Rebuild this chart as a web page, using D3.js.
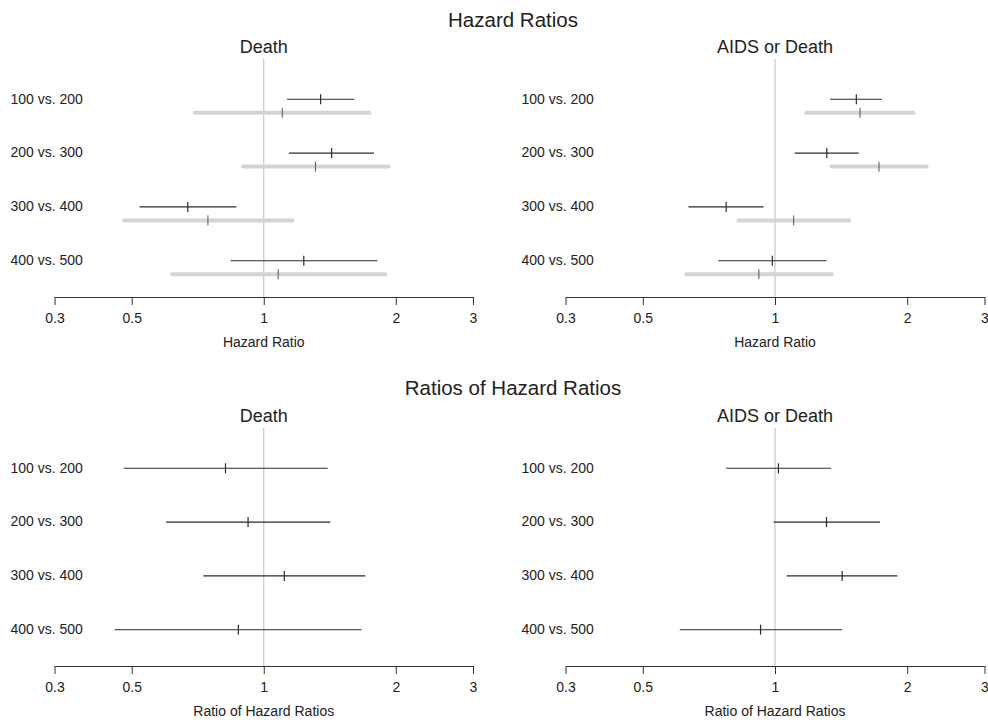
<!DOCTYPE html>
<html><head><meta charset="utf-8">
<script src="https://cdn.jsdelivr.net/npm/d3@7"></script>
<style>
body{margin:0;background:#fff;}
text{font-family:"Liberation Sans",Arial,Helvetica,sans-serif;fill:#222;}
</style></head>
<body>
<svg id="chart" width="988" height="720"></svg>
<script>
const categories = ["100 vs. 200","200 vs. 300","300 vs. 400","400 vs. 500"];
const tickValues = [1/3, 0.5, 1, 2, 3];
const tickLabels = ["0.3","0.5","1","2","3"];

// Hazard ratios - Death (black = first series, grey = second series)
const deathHR_est = [1.348, 1.428, 0.671, 1.234];
const deathHR_lo  = [1.129, 1.141, 0.521, 0.840];
const deathHR_hi  = [1.610, 1.784, 0.866, 1.816];
const deathHR2_est = [1.102, 1.312, 0.746, 1.079];
const deathHR2_lo  = [0.696, 0.897, 0.480, 0.618];
const deathHR2_hi  = [1.743, 1.927, 1.162, 1.894];

// Hazard ratios - AIDS or Death
const aidsHR_est = [1.532, 1.312, 0.774, 0.986];
const aidsHR_lo  = [1.335, 1.109, 0.635, 0.743];
const aidsHR_hi  = [1.752, 1.551, 0.942, 1.310];
const aidsHR2_est = [1.562, 1.725, 1.103, 0.919];
const aidsHR2_lo  = [1.178, 1.345, 0.825, 0.628];
const aidsHR2_hi  = [2.068, 2.215, 1.476, 1.347];

// Ratios of hazard ratios
const deathRHR_est = [0.818, 0.921, 1.114, 0.875];
const deathRHR_lo  = [0.479, 0.599, 0.728, 0.457];
const deathRHR_hi  = [1.399, 1.418, 1.704, 1.671];
const aidsRHR_est = [1.018, 1.310, 1.422, 0.927];
const aidsRHR_lo  = [0.774, 0.993, 1.063, 0.607];
const aidsRHR_hi  = [1.342, 1.734, 1.900, 1.422];

const svg = d3.select("#chart");

function series(est, lo, hi){ return categories.map((c,i)=>({cat:c, est:est[i], lo:lo[i], hi:hi[i]})); }

function panel(opts){
  const g = svg.append("g").attr("transform", `translate(0,${opts.dy})`);
  const x = d3.scaleLog().domain([1/3, 3]).range(opts.xr);
  const y = d3.scalePoint().domain(categories).range([99.3, 260.7]);
  const xc = x(1);

  g.append("text").attr("x", xc).attr("y", 52.5).attr("text-anchor","middle")
    .style("font-size","18px").text(opts.sub);

  g.append("line").attr("x1", xc).attr("x2", xc).attr("y1", 59).attr("y2", 297)
    .attr("stroke","#bdbdbd").attr("stroke-width",1);

  g.selectAll("text.row").data(categories).enter().append("text").attr("class","row")
    .attr("x", opts.lx).attr("y", d=>y(d)).attr("dy","0.3em")
    .style("font-size","14px").text(d=>d);

  if (opts.s2) {
    const s2 = g.append("g");
    s2.selectAll("line.ci").data(opts.s2).enter().append("line")
      .attr("x1", d=>x(d.lo)).attr("x2", d=>x(d.hi))
      .attr("y1", d=>y(d.cat)+13.5).attr("y2", d=>y(d.cat)+13.5)
      .attr("stroke","#d4d4d4").attr("stroke-width",4).attr("stroke-linecap","round");
    s2.selectAll("line.pt").data(opts.s2).enter().append("line")
      .attr("x1", d=>x(d.est)).attr("x2", d=>x(d.est))
      .attr("y1", d=>y(d.cat)+8.5).attr("y2", d=>y(d.cat)+18.5)
      .attr("stroke","#555").attr("stroke-width",1);
  }
  const s1 = g.append("g");
  s1.selectAll("line.ci").data(opts.s1).enter().append("line")
    .attr("x1", d=>x(d.lo)).attr("x2", d=>x(d.hi))
    .attr("y1", d=>y(d.cat)).attr("y2", d=>y(d.cat))
    .attr("stroke","#2b2b2b").attr("stroke-width",1.1);
  s1.selectAll("line.pt").data(opts.s1).enter().append("line")
    .attr("x1", d=>x(d.est)).attr("x2", d=>x(d.est))
    .attr("y1", d=>y(d.cat)-5).attr("y2", d=>y(d.cat)+5)
    .attr("stroke","#2b2b2b").attr("stroke-width",1.2);

  const axis = d3.axisBottom(x).tickValues(tickValues)
    .tickFormat((d,i)=>tickLabels[i]).tickSizeOuter(0).tickSizeInner(8).tickPadding(8);
  const ag = g.append("g").attr("transform","translate(0,297)").call(axis);
  ag.select(".domain").attr("stroke","#333");
  ag.selectAll(".tick line").attr("stroke","#333");
  ag.selectAll(".tick text").style("font-size","14px").attr("fill","#222")
    .style("font-family",'"Liberation Sans",Arial,sans-serif');

  g.append("text").attr("x", xc).attr("y", 346.5).attr("text-anchor","middle")
    .style("font-size","14px").text(opts.xlab);
}

svg.append("text").attr("x",513).attr("y",26.5).attr("text-anchor","middle")
  .style("font-size","20.5px").text("Hazard Ratios");
svg.append("text").attr("x",513).attr("y",395).attr("text-anchor","middle")
  .style("font-size","20.5px").text("Ratios of Hazard Ratios");

panel({dy:0, xr:[54.5,473], lx:10.5, sub:"Death", xlab:"Hazard Ratio",
  s1:series(deathHR_est,deathHR_lo,deathHR_hi), s2:series(deathHR2_est,deathHR2_lo,deathHR2_hi)});
panel({dy:0, xr:[565.5,984.5], lx:521.5, sub:"AIDS or Death", xlab:"Hazard Ratio",
  s1:series(aidsHR_est,aidsHR_lo,aidsHR_hi), s2:series(aidsHR2_est,aidsHR2_lo,aidsHR2_hi)});
panel({dy:369, xr:[54.5,473], lx:10.5, sub:"Death", xlab:"Ratio of Hazard Ratios",
  s1:series(deathRHR_est,deathRHR_lo,deathRHR_hi)});
panel({dy:369, xr:[565.5,984.5], lx:521.5, sub:"AIDS or Death", xlab:"Ratio of Hazard Ratios",
  s1:series(aidsRHR_est,aidsRHR_lo,aidsRHR_hi)});
</script>
</body></html>
